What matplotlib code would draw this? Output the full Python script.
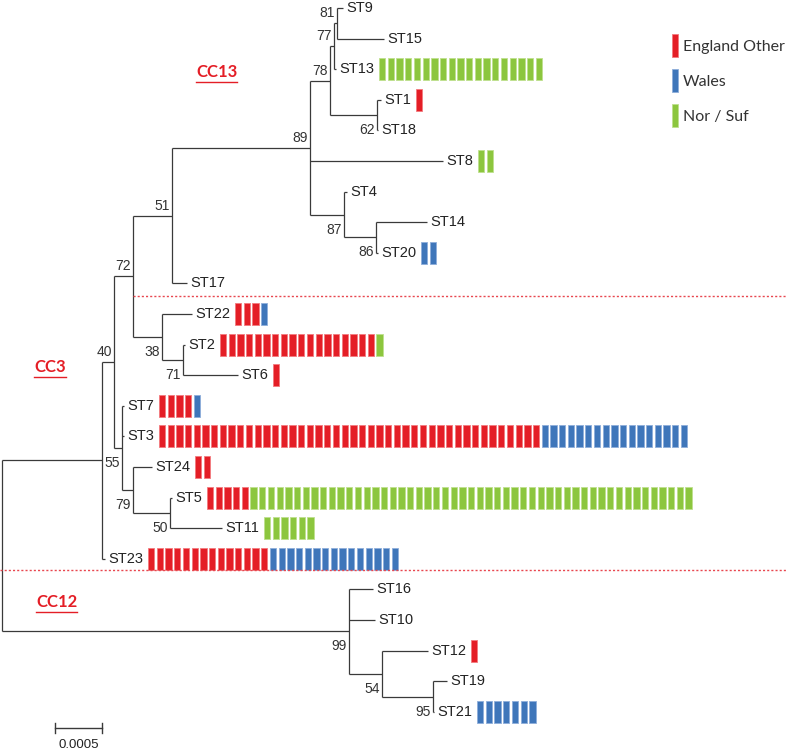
import matplotlib
matplotlib.use('Agg')
import matplotlib.pyplot as plt
from matplotlib.patches import Rectangle, Patch

plt.rcParams['font.family'] = ['Liberation Sans', 'DejaVu Sans']

# ---- data -------------------------------------------------------------
# ML tree, branch lengths in substitutions/site, bootstrap as node label
newick = ("(((((((((ST9:0.000064,ST15:0.0005)81:0.000032,ST13:0.000021)77:0.000043,"
          "(ST1:0.000043,ST18:0.000011)62:0.0005)78:0.000213,ST8:0.001415,"
          "(ST4:0.000032,(ST14:0.000543,ST20:0.000021)86:0.00034)87:0.000362)89:0.001468,"
          "ST17:0.00016)51:0.000415,"
          "(ST22:0.000319,(ST2:0.000021,ST6:0.000585)71:0.000223)38:0.000309)72:0.000202,"
          "(ST7:0.000021,ST3:0.000021,(ST24:0.000202,(ST5:0.000021,ST11:0.000553)50:0.000394)79:0.000117)55:0.000085)40:0.000128,"
          "ST23:0.000032):0.001064,"
          "(ST16:0.000255,ST10:0.000277,(ST12:0.000489,(ST19:0.000149,ST21:0.000011)95:0.000543)54:0.000351)99:0.003691);")

# isolate counts per ST (tree order)
st_names = ['ST9', 'ST15', 'ST13', 'ST1', 'ST18', 'ST8', 'ST4', 'ST14', 'ST20', 'ST17',
            'ST22', 'ST2', 'ST6', 'ST7', 'ST3', 'ST24', 'ST5', 'ST11', 'ST23',
            'ST16', 'ST10', 'ST12', 'ST19', 'ST21']
england = [0, 0, 0, 1, 0, 0, 0, 0, 0, 0, 3, 18, 1, 4, 44, 2, 5, 0, 14, 0, 0, 1, 0, 0]
wales   = [0, 0, 0, 0, 0, 0, 0, 0, 2, 0, 1, 0, 0, 1, 17, 0, 0, 0, 15, 0, 0, 0, 0, 7]
norsuf  = [0, 0, 19, 0, 0, 2, 0, 0, 0, 0, 0, 1, 0, 0, 0, 0, 51, 6, 0, 0, 0, 0, 0, 0]

groups = ['England Other', 'Wales', 'Nor / Suf']
colors = ['#E41E26', '#3F76BA', '#8CC63E']
edges = ['#F37A7E', '#8EAEDA', '#BFE08E']
label_below = ['62', '87', '86', '38', '71', '55', '79', '50', '99', '54', '95']

# ---- tree parsing / layout ---------------------------------------------
def parse(s):
    pos = 0
    def node():
        nonlocal pos
        n = {'children': []}
        if s[pos] == '(':
            pos += 1
            while True:
                n['children'].append(node())
                if s[pos] == ',':
                    pos += 1
                    continue
                pos += 1
                break
        start = pos
        while s[pos] not in ',);':
            pos += 1
        name, _, length = s[start:pos].partition(':')
        n['name'] = name
        n['len'] = float(length) if length else 0.0
        return n
    return node()

leaves = []
def layout(n, depth):
    n['x'] = depth + n['len']
    if n['children']:
        for c in n['children']:
            layout(c, n['x'])
        n['y'] = (n['children'][0]['y'] + n['children'][-1]['y']) / 2
    else:
        n['y'] = len(leaves)
        leaves.append(n)

root = parse(newick)
layout(root, 0.0)

PX = 94000.0   # pixels per unit branch length
ROW = 30.6     # pixels per leaf
def dx(p): return p / PX
def dy(p): return p / ROW

fig = plt.figure(figsize=(7.87, 7.53), dpi=100)
ax = fig.add_axes([0, 0, 1, 1])
ax.set_xlim(dx(-2), dx(785))
ax.set_ylim(dy(745), dy(-8))
ax.axis('off')

LC = '#3a3a3a'
def draw(n, parent=None):
    if parent is not None:
        ax.plot([parent['x'], n['x']], [n['y'], n['y']], color=LC, lw=0.9, solid_capstyle='butt')
        if n['children'] and n['name']:
            below = n['name'] in label_below
            ax.text(n['x'] - dx(2), n['y'] + (dy(15) if below else -dy(10)), n['name'],
                    ha='right', va='center', fontsize=10, color='#333333')
    if n['children']:
        ax.plot([n['x'], n['x']], [n['children'][0]['y'], n['children'][-1]['y']],
                color=LC, lw=0.9, solid_capstyle='butt')
        for c in n['children']:
            draw(c, n)

draw(root)

leaf_text = []
for lf in leaves:
    t = ax.text(lf['x'] + dx(3), lf['y'], lf['name'], ha='left', va='center',
                fontsize=10.5, color='#222222')
    leaf_text.append(t)

fig.canvas.draw()
r = fig.canvas.get_renderer()
inv = ax.transData.inverted()

for lf, t in zip(leaves, leaf_text):
    i = st_names.index(lf['name'])
    bb = t.get_window_extent(r)
    x0 = inv.transform((bb.x1, bb.y0))[0] + dx(5)
    k = 0
    for cnt, fc, ec in zip([england[i], wales[i], norsuf[i]], colors, edges):
        for _ in range(cnt):
            ax.add_patch(Rectangle((x0 + k * dx(8.7), lf['y'] - dy(11)), dx(6.3), dy(22),
                                   facecolor=fc, edgecolor=ec, lw=0.6))
            k += 1

# cluster separators
ax.plot([dx(131), dx(785)], [9.4, 9.4], color='#E8474F', lw=1, ls=(0, (1.5, 1.5)))
ax.plot([dx(-2), dx(785)], [18.35, 18.35], color='#E8474F', lw=1, ls=(0, (1.5, 1.5)))

# clonal complex labels (underlined)
for name, px, py in [('CC13', 196, 72), ('CC3', 34, 367), ('CC12', 36, 602)]:
    t = ax.text(dx(px - 2), dy(py - 8), name, ha='left', va='center', fontsize=12,
                fontweight='bold', color='#E41E26', family='Lato')
    bb = t.get_window_extent(r)
    (ux0, uy), (ux1, _) = inv.transform([(bb.x0, bb.y0 - 2), (bb.x1, bb.y0)])
    ax.plot([ux0, ux1], [uy, uy], color='#E41E26', lw=1)

# scale bar
sy = dy(728 - 8)
sx = dx(53)
ax.plot([sx, sx + 0.0005], [sy, sy], color=LC, lw=1)
ax.plot([sx, sx], [sy - dy(5), sy + dy(5)], color=LC, lw=1)
ax.plot([sx + 0.0005, sx + 0.0005], [sy - dy(5), sy + dy(5)], color=LC, lw=1)
ax.text(sx + 0.00025, sy + dy(17), '0.0005', ha='center', va='center', fontsize=9.5, color='#222222')

handles = [Patch(facecolor=c, edgecolor=e, lw=0.6, label=g) for g, c, e in zip(groups, colors, edges)]
ax.legend(handles=handles, loc='upper left', bbox_to_anchor=(672 / 787, 1 - 34 / 753),
          frameon=False, borderpad=0, borderaxespad=0, handlelength=0.4, handleheight=1.85,
          labelspacing=0.75, handletextpad=0.3, prop={'family': 'Lato', 'size': 11.5},
          labelcolor='#333333')

plt.savefig('out.png', dpi=100)
